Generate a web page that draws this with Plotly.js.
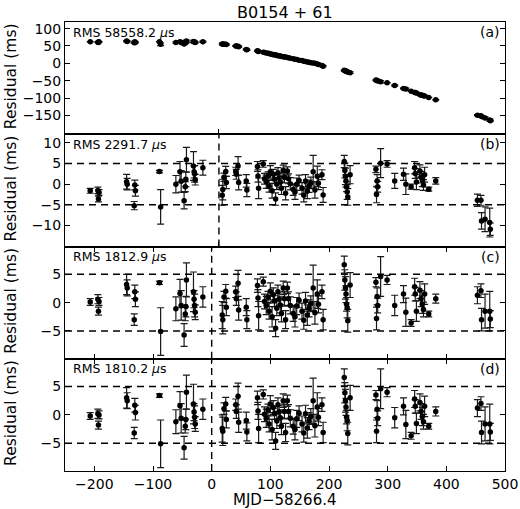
<!DOCTYPE html>
<html>
<head>
<meta charset="utf-8">
<script src="https://cdn.plot.ly/plotly-3.0.1.min.js"></script>
<style>html,body{margin:0;padding:0;background:#fff;}#chart{width:520px;height:509px;}</style>
</head>
<body>
<div id="chart"></div>
<script>
// MJD - 58266.4 (days)
const mjd = [
  -207,-194,-192,-193,-145,-144,-131,-130,-132,-89,-87,-61,-54,-52,-47,-45,-44,-43,-31,-30,-29,-28,-15,
  18,19,21,24,25,41,42,45,46,59,60,
  78,79,80,88,90,93,96,98,100,103,105,107,109,111,113,115,117,119,122,124,126,129,131,134,139,142,145,149,154,157,160,163,166,169,173,176,180,182,188,190,
  226,227,228,229,230,231,232,236,280,282,283,281,288,299,312,327,331,340,346,347,349,355,357,359,361,363,370,382,
  453,459,460,466,474,475
];
// panel (a) residuals (ms)
const resA = [
  62,61,62,60,64,63,62,60,59,62,55,60,62,60,56,59,60,64,63,62,61,60,62,
  56,55,56,55,54,50,50,49,48,40,39,
  36,35,34,32,31,30,29,28,27,26,25,25,24,23,22,22,21,20,19,18,18,17,16,15,13,12,11,9,8,6,5,4,3,2,1,0,-2,-3,-6,-8,
  -20,-21,-22,-22,-23,-24,-25,-27,-48,-49,-50,-49,-53,-56,-64,-72,-74,-80,-84,-84,-85,-90,-91,-92,-93,-94,-98,-105,
  -149,-151,-153,-157,-163,-165
];
// panel (b) residuals (ms)
const resB = [
  -1.6,-1.5,-2.0,-3.6,0.6,0.0,-0.2,-1.6,-5.2,3.05,-5.5,0.0,3.0,0.7,-4.0,-0.6,1.2,5.9,4.4,3.0,2.5,1.1,4.0,
  -2.7,-1.3,1.7,3.1,0.4,3.1,2.4,4.4,0.4,0.8,-1.4,
  4.3,2.0,-1.0,4.9,1.3,0.6,2.0,-0.5,3.0,-1.6,2.4,1.2,-3.6,0.0,2.8,1.5,0.5,-1.0,3.4,1.6,-2.2,3.2,1.3,0.1,-1.3,-1.9,0.0,0.9,-1.0,-2.7,0.8,-1.7,-0.5,0.3,3.0,-1.4,1.9,0.2,2.3,-2.6,
  5.5,3.3,1.9,0.8,-0.6,-1.9,-3.1,2.3,3.6,0.8,-0.6,-2.5,5.1,4.9,0.8,2.4,0.0,-0.6,4.0,2.6,0.5,3.2,1.7,1.0,-0.2,2.3,-1.2,0.8,
  -3.9,-3.9,-8.9,-8.5,-9.3,-10.9
];
// panel (c) residuals (ms)
const resC = [
  0.1,0.6,0.2,-1.5,3.2,2.6,1.9,0.6,-3.0,3.5,-5.1,-1.1,1.6,-0.5,-5.7,-2.0,-0.7,4.0,1.9,0.6,-0.5,-1.7,1.0,
  -2.2,-3.0,1.0,2.0,-0.8,1.9,0.7,3.4,-1.3,-0.8,-3.0,
  3.0,0.8,-2.3,3.7,0.2,-0.5,1.0,-1.5,2.0,-2.5,1.4,0.3,-4.5,-1.0,1.9,0.6,-0.4,-1.9,2.6,0.7,-3.0,2.6,0.7,-0.5,-1.9,-2.5,-0.6,0.4,-1.5,-3.1,0.3,-2.2,-1.0,-0.2,2.6,-1.8,1.5,-0.3,1.9,-3.0,
  6.7,4.0,2.6,1.5,-0.3,-0.9,-3.2,3.1,3.6,1.1,-0.5,-2.8,4.6,4.0,-0.5,1.5,-1.7,-3.6,2.8,1.5,-1.5,2.2,0.7,-0.3,-1.2,1.5,-2.0,0.7,
  1.3,2.1,-3.0,-1.5,-1.5,-2.9
];
// panel (d) residuals (ms)
const resD = [
  -0.2,0.2,0.0,-1.8,3.0,2.5,1.7,0.4,-3.2,3.4,-5.1,-1.2,1.6,-0.6,-5.8,-2.0,-0.8,4.0,1.9,0.5,-0.4,-1.6,1.0,
  -2.4,-2.9,1.1,1.9,-0.8,1.8,0.6,3.3,-1.3,-1.0,-3.0,
  3.0,0.7,-2.4,3.6,0.1,-0.6,0.9,-1.6,1.9,-2.6,1.3,0.2,-4.6,-1.1,1.8,0.5,-0.5,-2.0,2.5,0.6,-3.1,2.5,0.6,-0.6,-2.0,-2.6,-0.7,0.3,-1.6,-3.2,0.2,-2.3,-1.1,-0.3,2.5,-1.9,1.4,-0.4,1.8,-3.1,
  6.6,3.9,2.5,1.4,-0.4,-1.0,-3.3,3.0,3.5,1.0,-0.6,-2.9,4.6,4.0,-0.5,1.5,-1.7,-3.7,2.8,1.5,-1.5,2.2,0.6,-0.3,-1.2,1.5,-2.0,0.6,
  1.2,2.0,-3.1,-1.6,-1.6,-3.0
];
// uncertainties (ms)
const errs = [
  0.6,0.8,0.7,0.7,1.8,1.4,1.2,1.3,1.0,0.3,4.2,2.1,2.5,2.6,2.0,1.2,1.8,3.0,3.5,1.5,2.0,1.3,1.8,
  2.4,2.5,1.0,1.2,1.5,1.0,1.2,2.3,1.8,1.5,1.6,
  1.2,1.5,2.5,0.8,1.3,1.6,1.0,1.4,1.5,1.8,1.2,1.0,1.5,1.3,1.2,1.1,1.4,1.5,1.2,1.3,1.6,1.0,1.2,1.5,1.4,1.8,1.5,1.3,1.4,1.6,1.5,1.8,1.5,1.4,4.0,2.0,2.5,1.5,1.2,1.8,
  1.5,1.8,2.0,1.5,1.2,1.8,2.0,2.2,0.8,1.5,1.3,2.0,3.5,0.8,1.8,1.5,2.5,0.6,1.5,1.2,1.8,1.5,1.4,1.6,1.3,1.8,0.5,0.8,
  1.5,1.2,2.0,3.0,3.5,1.5
];
const panelTags = ['(a)','(b)','(c)','(d)'];
const rmsText = ['RMS 58558.2 <i>μ</i>s','RMS 2291.7 <i>μ</i>s','RMS 1812.9 <i>μ</i>s','RMS 1810.2 <i>μ</i>s'];
const chartTitle = 'B0154 + 61';
const xTitle = 'MJD\u221258266.4';
const yTitle = 'Residual (ms)';
const xTicks = [-200,-100,0,100,200,300,400,500];
const yTicksA = [-150,-100,-50,0,50,100];
const yTicksB = [-10,-5,0,5,10];
const yTicksCD = [-5,0,5];
const refLineB = 12.4;
const refLineCD = 0;

const FONT = 'DejaVu Sans, sans-serif';
const series = [resA,resB,resC,resD];
const traces = series.map((ys,i)=>({
  type:'scatter', mode:'markers', x:mjd, y:ys,
  xaxis: i===0?'x':'x'+(i+1), yaxis: i===0?'y':'y'+(i+1),
  marker:{color:'#000', size:5.5},
  error_y:{type:'data', array:errs, visible:true, color:'#1a1a1a', thickness:1.2, width:3.5},
  hoverinfo:'skip', showlegend:false
}));

const domains = [[0.75,1],[0.5,0.75],[0.25,0.5],[0,0.25]];
const yRanges = [[-204,119],[-15.1,12.1],[-9.9,9.9],[-9.9,9.9]];
const yTickSets = [yTicksA,yTicksB,yTicksCD,yTicksCD];

const layout = {
  width:520, height:509,
  margin:{l:65, r:15, t:22, b:38},
  paper_bgcolor:'#fff', plot_bgcolor:'#fff',
  font:{family:FONT, size:14, color:'#000'},
  showlegend:false,
  shapes:[], annotations:[]
};
for (let i=0;i<4;i++){
  const xk = i===0?'xaxis':'xaxis'+(i+1);
  const yk = i===0?'yaxis':'yaxis'+(i+1);
  const yid = i===0?'y':'y'+(i+1);
  const xid = i===0?'x':'x'+(i+1);
  const xa = {
    domain:[0,1], range:[-250,500], anchor:yid,
    showline:true, linecolor:'#000', linewidth:1, showgrid:false, zeroline:false,
    ticks:'inside', ticklen:5, tickwidth:1, tickcolor:'#000',
    tickfont:{family:FONT,size:14,color:'#000'}
  };
  if (i<2){
    xa.tickvals=[refLineB]; xa.showticklabels=false; xa.mirror=true;
  } else {
    xa.tickvals=xTicks; xa.mirror='ticks'; xa.showticklabels=(i===3);
  }
  layout[xk]=xa;
  layout[yk] = {
    domain:domains[i], range:yRanges[i], anchor:xid,
    showline:true, linecolor:'#000', linewidth:1, mirror:'ticks',
    showgrid:false, zeroline:false,
    ticks:'inside', ticklen:5, tickwidth:1, tickcolor:'#000',
    tickvals:yTickSets[i], tickfont:{family:FONT,size:14,color:'#000'}
  };
  if (i>0){
    [5,-5].forEach(v=>layout.shapes.push({type:'line', xref:xid+' domain', x0:0, x1:1, yref:yid, y0:v, y1:v,
      line:{color:'#000', width:1.4, dash:'7px,5px'}}));
    const xv = i===1?refLineB:refLineCD;
    layout.shapes.push({type:'line', xref:xid, x0:xv, x1:xv, yref:yid+' domain', y0:0, y1:1,
      line:{color:'#000', width:1.4, dash:'7px,5px'}});
  }
  layout.annotations.push({xref:'paper', yref:'paper', x:0, y:domains[i][1], xanchor:'left', yanchor:'middle',
    xshift:6, yshift:-10, text:rmsText[i], showarrow:false, font:{family:FONT,size:12.5,color:'#000'}});
  layout.annotations.push({xref:'paper', yref:'paper', x:1, y:domains[i][1], xanchor:'right', yanchor:'middle',
    xshift:-3, yshift:-10, text:panelTags[i], showarrow:false, font:{family:FONT,size:14,color:'#000'}});
  layout.annotations.push({xref:'paper', yref:'paper', x:0, y:(domains[i][0]+domains[i][1])/2, xanchor:'center', yanchor:'middle',
    xshift:-54, yshift:2, textangle:-90, text:yTitle, showarrow:false, font:{family:FONT,size:15.5,color:'#000'}});
}
layout.annotations.push({xref:'paper', yref:'paper', x:0.5, y:1, xanchor:'center', yanchor:'middle', yshift:10,
  text:chartTitle, showarrow:false, font:{family:FONT,size:16,color:'#000'}});
layout.annotations.push({xref:'paper', yref:'paper', x:0.5, y:0, xanchor:'center', yanchor:'middle', yshift:-29,
  text:xTitle, showarrow:false, font:{family:FONT,size:15,color:'#000'}});

Plotly.newPlot('chart', traces, layout, {staticPlot:true, displayModeBar:false});
</script>
</body>
</html>
